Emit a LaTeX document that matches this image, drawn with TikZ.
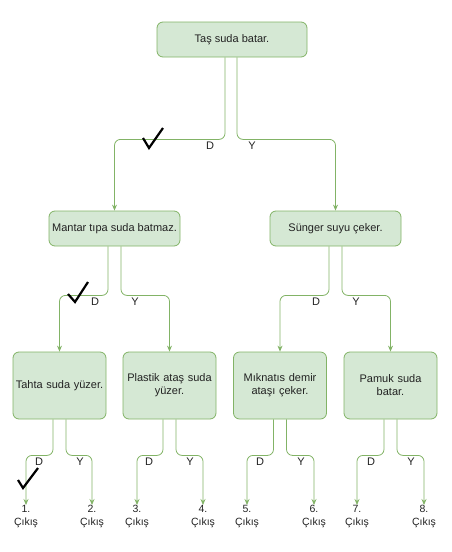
\documentclass[tikz,border=0pt]{standalone}
\usepackage{fontspec}
\setmainfont{Liberation Sans}
\usetikzlibrary{arrows.meta}
\definecolor{boxfill}{HTML}{D5E8D4}
\definecolor{boxline}{HTML}{82B366}
\definecolor{txt}{HTML}{222222}
\begin{document}
\begin{tikzpicture}[x=1pt,y=-1pt,
  qbox/.style={draw=boxline,fill=boxfill,rounded corners=6pt,line width=0.8pt,
     align=center,font=\fontsize{11}{13}\selectfont,text=txt,inner sep=2pt},
  edge/.style={draw=boxline,line width=0.8pt,rounded corners=6pt,
     -{Stealth[length=6pt,width=5pt]}},
  lbl/.style={font=\fontsize{11}{13}\selectfont,text=txt,inner sep=0pt},
  outn/.style={font=\fontsize{10.5}{13}\selectfont,text=txt,align=center,inner sep=0pt,anchor=north},
  tick/.style={draw=black,line width=2.2pt}]
\useasboundingbox (0,0) rectangle (452,552);
\node[qbox,minimum width=150pt,minimum height=35pt] (top) at (232,39.5) {Taş suda batar.};
\node[qbox,minimum width=131pt,minimum height=35pt] (mantar) at (114.5,228.5) {Mantar tıpa suda batmaz.};
\node[qbox,minimum width=131pt,minimum height=35pt] (sunger) at (335.5,228.5) {Sünger suyu çeker.};
\node[qbox,minimum width=93pt,minimum height=67pt,text width=88pt] (tahta) at (59.5,385.5) {Tahta suda yüzer.};
\node[qbox,minimum width=93pt,minimum height=67pt,text width=88pt] (plastik) at (169.5,385.5) {Plastik ataş suda\\yüzer.};
\node[qbox,minimum width=93pt,minimum height=67pt,text width=88pt] (miknatis) at (280,385.5) {Mıknatıs demir\\ataşı çeker.};
\node[qbox,minimum width=93pt,minimum height=67pt,text width=88pt] (pamuk) at (390.5,385.5) {Pamuk suda\\batar.};
% outputs
\node[outn] (o1) at (26,505) {1.\\Çıkış};
\node[outn] (o2) at (92,505) {2.\\Çıkış};
\node[outn] (o3) at (137,505) {3.\\Çıkış};
\node[outn] (o4) at (203,505) {4.\\Çıkış};
\node[outn] (o5) at (247,505) {5.\\Çıkış};
\node[outn] (o6) at (314,505) {6.\\Çıkış};
\node[outn] (o7) at (357,505) {7.\\Çıkış};
\node[outn] (o8) at (424,505) {8.\\Çıkış};
% edges level 1
\draw[edge] ([xshift=-7pt]top.south) -- ++(0,82) -| (mantar.north);
\draw[edge] ([xshift=5pt]top.south) -- ++(0,82) -| (sunger.north);
% level 2
\draw[edge] ([xshift=-6.5pt]mantar.south) -- ++(0,49) -| (tahta.north);
\draw[edge] ([xshift=6.5pt]mantar.south) -- ++(0,49) -| (plastik.north);
\draw[edge] ([xshift=-6.5pt]sunger.south) -- ++(0,49) -| (miknatis.north);
\draw[edge] ([xshift=6.5pt]sunger.south) -- ++(0,49) -| (pamuk.north);
% level 3
\draw[edge] ([xshift=-6.5pt]tahta.south) -- ++(0,36) -| (o1.north);
\draw[edge] ([xshift=6.5pt]tahta.south) -- ++(0,36) -| (o2.north);
\draw[edge] ([xshift=-6.5pt]plastik.south) -- ++(0,36) -| (o3.north);
\draw[edge] ([xshift=6.5pt]plastik.south) -- ++(0,36) -| (o4.north);
\draw[edge] ([xshift=-6.5pt]miknatis.south) -- ++(0,36) -| (o5.north);
\draw[edge] ([xshift=6.5pt]miknatis.south) -- ++(0,36) -| (o6.north);
\draw[edge] ([xshift=-6.5pt]pamuk.south) -- ++(0,36) -| (o7.north);
\draw[edge] ([xshift=6.5pt]pamuk.south) -- ++(0,36) -| (o8.north);
% labels
\node[lbl] (d0) at (210,146) {D};
\node[lbl] (y0) at (252,146) {Y};
\node[lbl] (d1) at (95,302) {D};
\node[lbl] (y1) at (135,302) {Y};
\node[lbl] (d2) at (316,302) {D};
\node[lbl] (y2) at (356,302) {Y};
\node[lbl] (d3) at (39,462) {D};
\node[lbl] (y3) at (80,462) {Y};
\node[lbl] (d4) at (149,462) {D};
\node[lbl] (y4) at (190,462) {Y};
\node[lbl] (d5) at (260,462) {D};
\node[lbl] (y5) at (301,462) {Y};
\node[lbl] (d6) at (371,462) {D};
\node[lbl] (y6) at (411,462) {Y};
% check marks
\draw[tick] (143,138) -- (149,148) -- (163,128);
\draw[tick] (68,294) -- (75,302) -- (88,282);
\draw[tick] (18,480) -- (23,488) -- (38,468);
\end{tikzpicture}
\end{document}
